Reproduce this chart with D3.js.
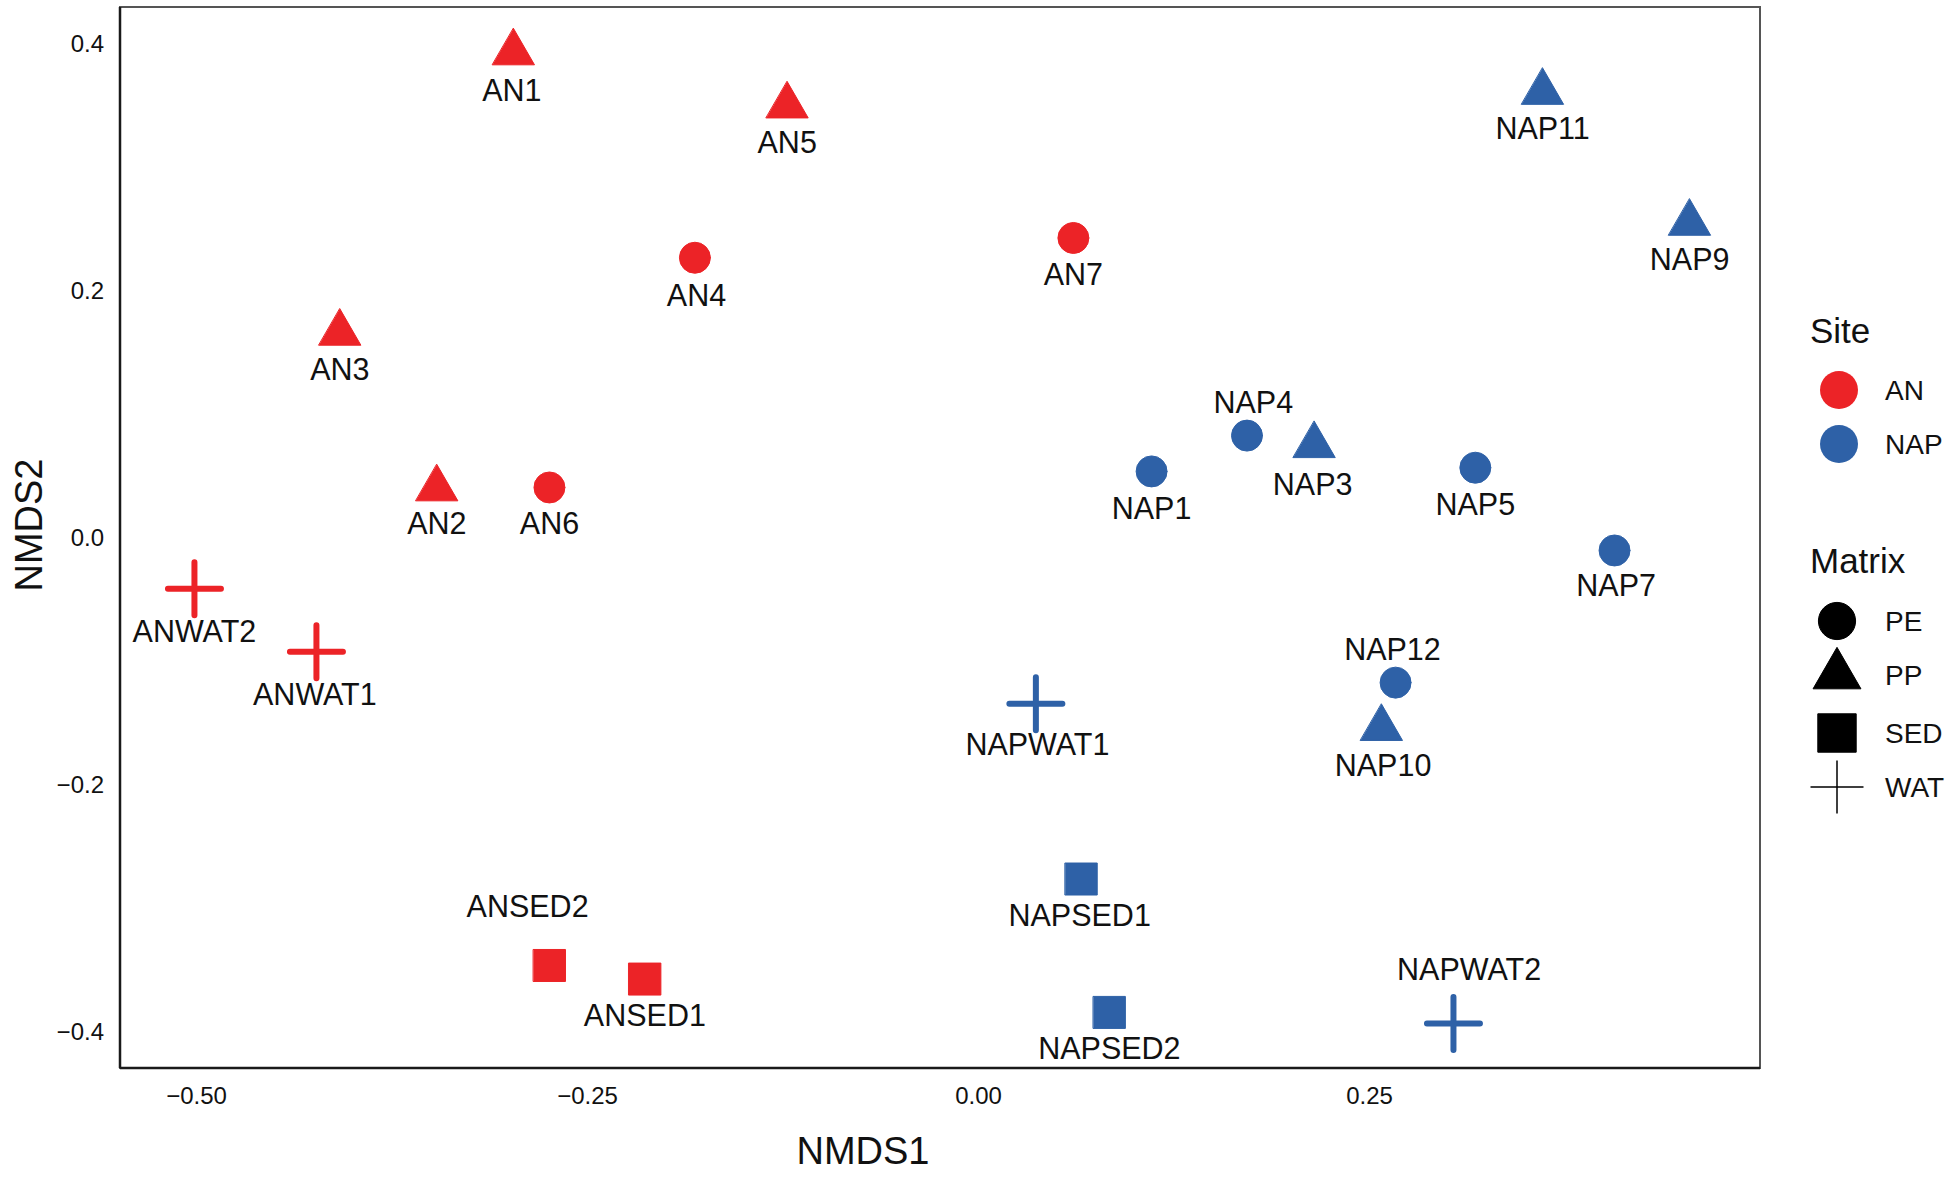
<!DOCTYPE html>
<html>
<head>
<meta charset="utf-8">
<script src="https://cdn.jsdelivr.net/npm/d3@7"></script>
<style>
  body { margin: 0; background: #fff; }
  text { font-family: "Liberation Sans", Arial, sans-serif; fill: #111; }
</style>
</head>
<body>
<div id="chart"></div>
<script>
// samples
var sampleNames = ["AN1","AN5","AN4","AN7","AN3","AN2","AN6","ANWAT2","ANWAT1","ANSED2","ANSED1",
  "NAP11","NAP9","NAP4","NAP3","NAP1","NAP5","NAP7","NAP12","NAP10","NAPWAT1","NAPSED1","NAPSED2","NAPWAT2"];
var siteOf = ["AN","AN","AN","AN","AN","AN","AN","AN","AN","AN","AN",
  "NAP","NAP","NAP","NAP","NAP","NAP","NAP","NAP","NAP","NAP","NAP","NAP","NAP"];
var matrixOf = ["PP","PP","PE","PE","PP","PP","PE","WAT","WAT","SED","SED",
  "PP","PP","PE","PP","PE","PE","PE","PE","PP","WAT","SED","SED","WAT"];
var nmds1 = [-0.297,-0.122,-0.181,0.061,-0.408,-0.346,-0.274,-0.501,-0.423,-0.274,-0.213,
  0.361,0.455,0.172,0.215,0.111,0.318,0.407,0.267,0.258,0.037,0.066,0.084,0.304];
var nmds2 = [0.393,0.350,0.227,0.243,0.166,0.040,0.041,-0.041,-0.092,-0.346,-0.357,
  0.361,0.255,0.083,0.075,0.054,0.057,-0.010,-0.117,-0.154,-0.134,-0.276,-0.384,-0.393];
// text label anchors (repelled labels), in NMDS units
var labelX = [-0.298,-0.122,-0.180,0.061,-0.408,-0.346,-0.274,-0.501,-0.424,-0.288,-0.213,
  0.361,0.455,0.176,0.214,0.111,0.318,0.408,0.265,0.259,0.038,0.065,0.084,0.314];
var labelY = [0.363,0.321,0.197,0.214,0.137,0.012,0.012,-0.075,-0.126,-0.298,-0.386,
  0.332,0.226,0.110,0.044,0.024,0.028,-0.038,-0.090,-0.184,-0.167,-0.305,-0.413,-0.349];

var xTicks = [-0.5,-0.25,0,0.25];
var yTicks = [-0.4,-0.2,0,0.2,0.4];
var siteLevels = ["AN","NAP"];
var siteColors = ["#EC2327","#2E61A7"];
var matrixLevels = ["PE","PP","SED","WAT"];

var W = 1952, H = 1178;
var svg = d3.select("#chart").append("svg").attr("width", W).attr("height", H);

var x = d3.scaleLinear().domain([-0.5486, 0.5]).range([120, 1760]);
var y = d3.scaleLinear().domain([-0.4290, 0.4300]).range([1068, 7]);
var colour = d3.scaleOrdinal().domain(siteLevels).range(siteColors);

// shape path for a matrix level, centred on 0,0
function shapePath(m, k){
  if(m == "PE") return d3.symbol(d3.symbolCircle, Math.PI*15.5*15.5*k*k)();
  if(m == "PP") return d3.symbol(d3.symbolTriangle, 42*42*Math.sqrt(3)/4*k*k)();
  if(m == "SED") return d3.symbol(d3.symbolSquare, 32*32*k*k)();
  var a = 26.5;
  return "M" + (-a) + ",0L" + a + ",0M0," + (-a) + "L0," + a;
}

// panel border
svg.append("rect").attr("x", 120).attr("y", 7).attr("width", 1640).attr("height", 1061)
  .style("fill", "none").style("stroke", "#555").style("stroke-width", 2);
svg.append("line").attr("x1", 120).attr("x2", 120).attr("y1", 7).attr("y2", 1068)
  .style("stroke", "#1a1a1a").style("stroke-width", 2.5);
svg.append("line").attr("x1", 120).attr("x2", 1760).attr("y1", 1068).attr("y2", 1068)
  .style("stroke", "#1a1a1a").style("stroke-width", 2.5);

// axes (no tick marks, just labels)
var xAxis = svg.append("g").attr("transform", "translate(0,1068)")
  .call(d3.axisBottom(x).tickValues(xTicks).tickSize(0).tickPadding(19).tickFormat(d3.format(".2f")));
var yAxis = svg.append("g").attr("transform", "translate(120,0)")
  .call(d3.axisLeft(y).tickValues(yTicks).tickSize(0).tickPadding(16).tickFormat(d3.format(".1f")));
xAxis.select(".domain").remove();
yAxis.select(".domain").remove();
svg.selectAll(".tick text").style("font-size", "24px").style("font-family", "Liberation Sans, Arial, sans-serif").attr("fill", "#111");

svg.append("text").attr("x", 863).attr("y", 1164).attr("text-anchor", "middle")
  .style("font-size", "38px").text("NMDS1");
svg.append("text").attr("transform", "translate(42,525) rotate(-90)").attr("text-anchor", "middle")
  .style("font-size", "38px").text("NMDS2");

var pts = sampleNames.map(function(n, i){
  return {name: n, site: siteOf[i], matrix: matrixOf[i], x: nmds1[i], y: nmds2[i], lx: labelX[i], ly: labelY[i]};
});

svg.append("g").selectAll("path").data(pts).enter().append("path")
  .attr("transform", function(d){ return "translate(" + x(d.x) + "," + y(d.y) + ")"; })
  .attr("d", function(d){ return shapePath(d.matrix, 1); })
  .style("fill", function(d){ return d.matrix == "WAT" ? "none" : colour(d.site); })
  .style("stroke", function(d){ return colour(d.site); })
  .style("stroke-width", function(d){ return d.matrix == "WAT" ? 6 : 1; })
  .style("stroke-linecap", "round");

svg.append("g").selectAll("text").data(pts).enter().append("text")
  .attr("x", function(d){ return x(d.lx); })
  .attr("y", function(d){ return y(d.ly); })
  .attr("text-anchor", "middle").attr("dominant-baseline", "central")
  .style("font-size", "30.5px")
  .text(function(d){ return d.name; });

// legends
var leg = svg.append("g");
leg.append("text").attr("x", 1810).attr("y", 343).style("font-size", "35px").text("Site");
siteLevels.forEach(function(s, i){
  var cy = 390 + i*54;
  leg.append("circle").attr("cx", 1839).attr("cy", cy).attr("r", 19).style("fill", colour(s));
  leg.append("text").attr("x", 1885).attr("y", cy).attr("dominant-baseline", "central")
    .style("font-size", "28px").text(s);
});

leg.append("text").attr("x", 1810).attr("y", 573).style("font-size", "35px").text("Matrix");
var matrixY = [621, 675, 733, 787];
matrixLevels.forEach(function(m, i){
  leg.append("path").attr("transform", "translate(1837," + matrixY[i] + ")")
    .attr("d", m == "PP" ? shapePath(m, 1.14) : shapePath(m, 1.2))
    .style("fill", m == "WAT" ? "none" : "#000")
    .style("stroke", "#000").style("stroke-width", m == "WAT" ? 1.5 : 1);
  leg.append("text").attr("x", 1885).attr("y", matrixY[i]).attr("dominant-baseline", "central")
    .style("font-size", "28px").text(m);
});
</script>
</body>
</html>
